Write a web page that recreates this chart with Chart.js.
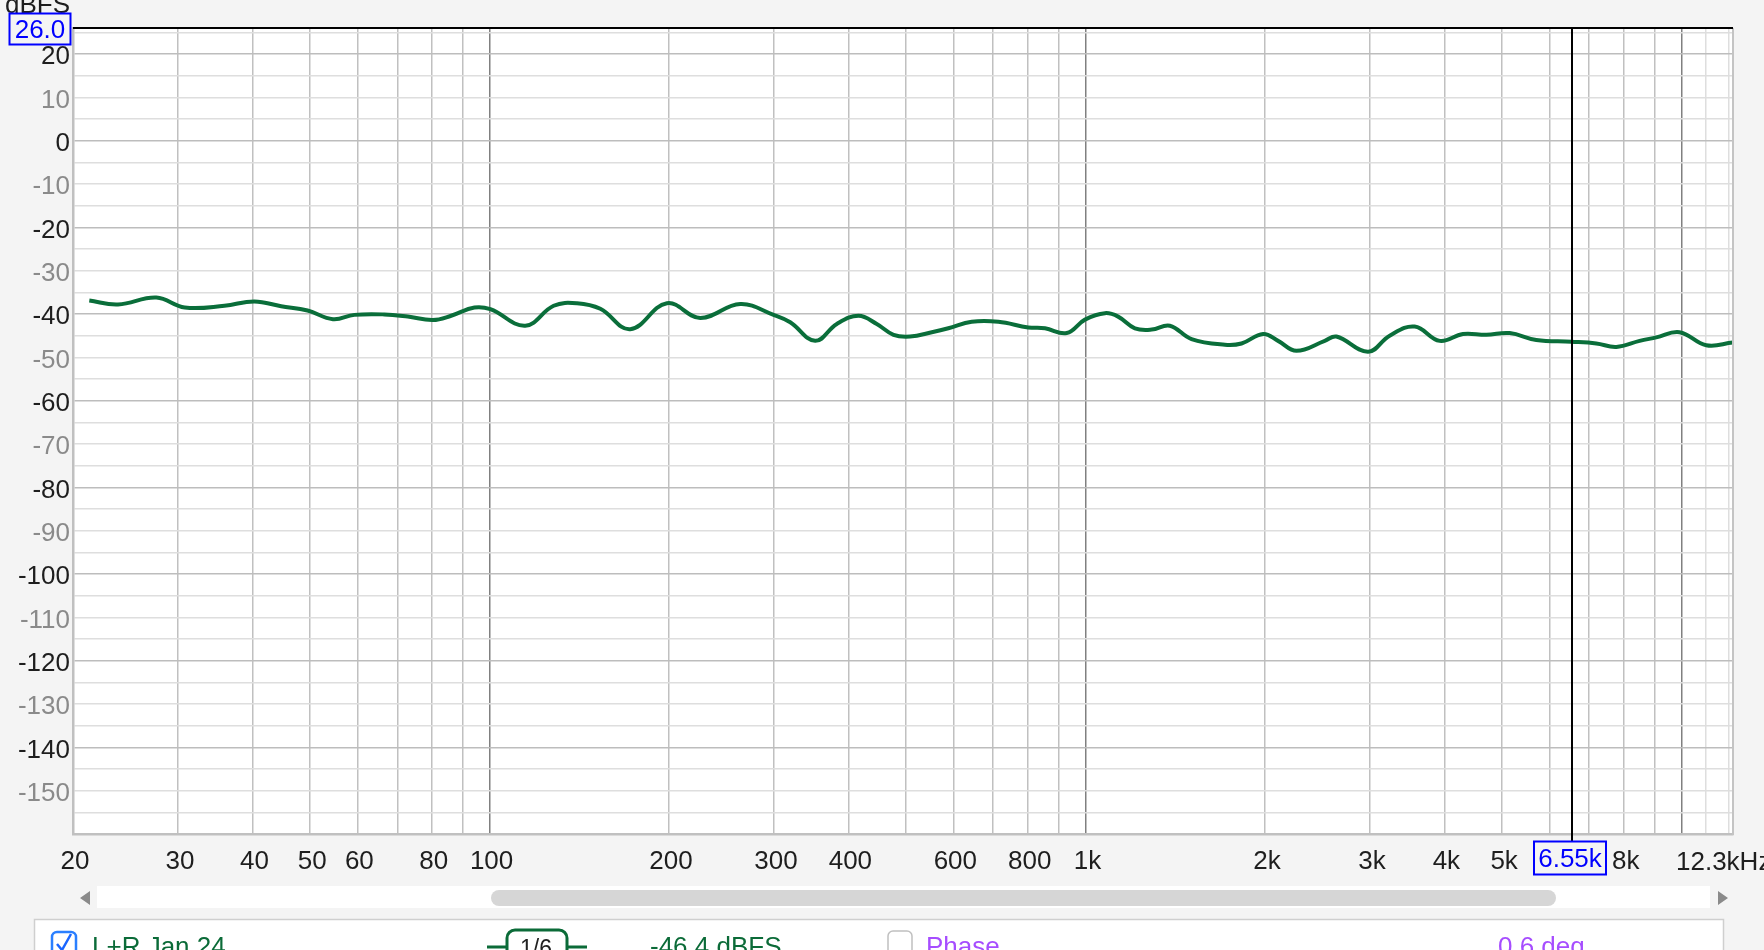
<!DOCTYPE html>
<html>
<head>
<meta charset="utf-8">
<title>RTA</title>
<script src="https://cdn.jsdelivr.net/npm/chart.js@4.4.1/dist/chart.umd.min.js"></script>
<style>
  html, body { margin: 0; padding: 0; background: #f4f4f4; }
  #wrap { position: relative; width: 1764px; height: 950px; overflow: hidden; }
</style>
</head>
<body>
<div id="wrap"><canvas id="rtaChart" width="1764" height="950"></canvas></div>
<script>
const freqs = [21.3, 23.8, 27.6, 30.8, 35.9, 40.3, 44.7, 49.5, 54.6, 59.3, 66.6, 72.9, 80.3, 86.2, 94.3,
  100.3, 114.8, 128.1, 140.2, 153.4, 172.2, 198.4, 225.7, 263.4, 299.6, 319.5, 351.8, 382.5, 415.9, 446.4,
  476.2, 507.7, 552.1, 588.5, 644.2, 714, 801.5, 855.1, 929.6, 997.7, 1078, 1134, 1210, 1291, 1385, 1506,
  1713, 1827, 1986, 2104, 2259, 2520, 2636, 2979, 3238, 3567, 3929, 4298, 4706, 5148, 5706, 6533, 7194,
  7774, 8504, 9071, 9922, 11000, 12190];
const levels = [-36.9, -37.8, -36.2, -38.5, -38.1, -37.1, -38.2, -39.2, -41.2, -40.2, -40.1, -40.6, -41.4, -40.4, -38.5,
  -38.9, -42.7, -38.1, -37.5, -38.8, -43.5, -37.5, -40.9, -37.7, -40.2, -41.9, -46.2, -42.3, -40.4, -42.3,
  -44.8, -45.2, -44.2, -43.3, -41.8, -41.8, -43.1, -43.3, -44.4, -41.3, -39.8, -40.6, -43.3, -43.6, -42.7, -45.8,
  -47.1, -46.8, -44.6, -46.2, -48.5, -46.2, -45.2, -48.7, -45.0, -42.9, -46.2, -44.6, -44.8, -44.4, -46.0, -46.4, -46.8,
  -47.6, -46.2, -45.4, -44.2, -47.2, -46.6];

const xGridValues = [20, 30, 40, 50, 60, 70, 80, 90, 100, 200, 300, 400, 500, 600, 700, 800, 900,
  1000, 2000, 3000, 4000, 5000, 6000, 7000, 8000, 9000, 10000, 11000, 12000];
const xLabelValues = [20, 30, 40, 50, 60, 80, 100, 200, 300, 400, 600, 800, 1000, 2000, 3000, 4000, 5000, 8000];
const xLabelTexts = ['20', '30', '40', '50', '60', '80', '100', '200', '300', '400', '600', '800', '1k', '2k', '3k', '4k', '5k', '8k'];
const yGridValues = [25, 20, 15, 10, 5, 0, -5, -10, -15, -20, -25, -30, -35, -40, -45, -50, -55, -60, -65, -70,
  -75, -80, -85, -90, -95, -100, -105, -110, -115, -120, -125, -130, -135, -140, -145, -150, -155];
const yLabelValues = [20, 10, 0, -10, -20, -30, -40, -50, -60, -70, -80, -90, -100, -110, -120, -130, -140, -150];

const cursorFreq = 6550;
const cursorLevel = 26.0;

const FONT = '"Liberation Sans", Arial, sans-serif';
const FSIZE = 26;
const GREEN = '#0b6b38';
const PURPLE = '#a64dff';
const BLUE = '#0000ff';

function boxLabel(ctx, text, cx, cy, w, h) {
  ctx.fillStyle = '#f4f4f4';
  ctx.fillRect(cx - w / 2, cy - h / 2, w, h);
  ctx.strokeStyle = BLUE;
  ctx.lineWidth = 2;
  ctx.strokeRect(cx - w / 2, cy - h / 2, w, h);
  ctx.fillStyle = BLUE;
  ctx.textAlign = 'center';
  ctx.textBaseline = 'alphabetic';
  ctx.fillText(text, cx, cy + 9);
}

const overlay = {
  id: 'overlay',
  beforeDraw(chart) {
    const { ctx, chartArea: a } = chart;
    ctx.save();
    ctx.fillStyle = '#ffffff';
    ctx.fillRect(a.left, a.top, a.right - a.left, a.bottom - a.top);
    ctx.restore();
  },
  afterDraw(chart) {
    const { ctx, chartArea: a } = chart;
    const xs = chart.scales.x, ys = chart.scales.y;
    ctx.save();
    ctx.font = FSIZE + 'px ' + FONT;

    // right frame
    ctx.strokeStyle = '#c4c4c4';
    ctx.lineWidth = 2;
    ctx.beginPath();
    ctx.moveTo(a.right, a.top);
    ctx.lineTo(a.right, a.bottom + 1);
    ctx.stroke();

    // cursor lines
    const cy = ys.getPixelForValue(cursorLevel);
    const cx = Math.round(xs.getPixelForValue(cursorFreq));
    ctx.strokeStyle = '#000';
    ctx.lineWidth = 2;
    ctx.beginPath();
    ctx.moveTo(a.left, cy);
    ctx.lineTo(a.right, cy);
    ctx.moveTo(cx, a.top);
    ctx.lineTo(cx, 842);
    ctx.stroke();

    // axis captions
    ctx.fillStyle = '#1e1e1e';
    ctx.textAlign = 'right';
    ctx.textBaseline = 'alphabetic';
    ctx.fillText('dBFS', 70, 13);
    ctx.textAlign = 'left';
    ctx.fillText('12.3kHz', 1676, 870);

    boxLabel(ctx, cursorLevel.toFixed(1), 40, cy + 1, 61, 31);
    boxLabel(ctx, (cursorFreq / 1000).toFixed(2) + 'k', cx - 2, 858, 72, 33);

    // scrollbar
    ctx.fillStyle = '#ffffff';
    ctx.fillRect(97, 886, 1613, 22);
    ctx.fillStyle = '#d6d6d6';
    ctx.beginPath();
    ctx.roundRect(491, 890, 1065, 16, 8);
    ctx.fill();
    ctx.fillStyle = '#8a8a8a';
    ctx.beginPath();
    ctx.moveTo(80, 898); ctx.lineTo(90, 891); ctx.lineTo(90, 905); ctx.closePath();
    ctx.moveTo(1728, 898); ctx.lineTo(1718, 891); ctx.lineTo(1718, 905); ctx.closePath();
    ctx.fill();

    // trace panel
    ctx.fillStyle = '#ffffff';
    ctx.fillRect(34.5, 919.5, 1689, 60);
    ctx.strokeStyle = '#cfcfcf';
    ctx.lineWidth = 1.5;
    ctx.strokeRect(34.5, 919.5, 1689, 60);

    ctx.strokeStyle = '#2a7fff';
    ctx.lineWidth = 2.5;
    ctx.beginPath();
    ctx.roundRect(52, 932, 24, 24, 5);
    ctx.stroke();
    ctx.strokeStyle = '#1a66ff';
    ctx.beginPath();
    ctx.moveTo(57, 944); ctx.lineTo(62, 950); ctx.lineTo(71, 934);
    ctx.stroke();

    ctx.strokeStyle = '#c0c0c0';
    ctx.lineWidth = 1.5;
    ctx.beginPath();
    ctx.roundRect(888, 931, 24, 24, 5);
    ctx.stroke();

    ctx.strokeStyle = GREEN;
    ctx.lineWidth = 3;
    ctx.beginPath();
    ctx.moveTo(487, 947); ctx.lineTo(507, 947);
    ctx.moveTo(567, 947); ctx.lineTo(587, 947);
    ctx.stroke();
    ctx.beginPath();
    ctx.roundRect(507, 930, 60, 40, 8);
    ctx.stroke();

    ctx.textAlign = 'left';
    ctx.fillStyle = GREEN;
    ctx.fillText('L+R Jan 24', 92, 955);
    ctx.fillText('-46.4 dBFS', 650, 955);
    ctx.fillStyle = '#222';
    ctx.font = '23px ' + FONT;
    ctx.fillText('1/6', 520, 956);
    ctx.font = FSIZE + 'px ' + FONT;
    ctx.fillStyle = PURPLE;
    ctx.fillText('Phase', 926, 955);
    ctx.fillText('0.6 deg', 1498, 955);
    ctx.restore();
  }
};

new Chart(document.getElementById('rtaChart'), {
  type: 'line',
  data: {
    datasets: [{
      label: 'L+R Jan 24',
      data: freqs.map((f, i) => ({ x: f, y: levels[i] })),
      borderColor: '#0a6e3a',
      borderWidth: 4,
      pointRadius: 0,
      tension: 0.4,
      fill: false
    }]
  },
  options: {
    responsive: false,
    animation: false,
    devicePixelRatio: 1,
    layout: { padding: { top: 28, right: 31, left: 0, bottom: 0 } },
    plugins: { legend: { display: false }, tooltip: { enabled: false } },
    scales: {
      x: {
        type: 'logarithmic',
        min: 20,
        max: 12200,
        afterBuildTicks: s => { s.ticks = xGridValues.map(v => ({ value: v })); },
        afterFit: s => { s.height = 116; s.paddingLeft = 0; s.paddingRight = 0; },
        grid: {
          drawTicks: false,
          lineWidth: 1.5,
          color: c => {
            const v = c.tick ? c.tick.value : 0;
            if (v === 100 || v === 1000 || v === 10000) return '#808080';
            if (v > 10000) return '#dedede';
            return '#c0c0c0';
          }
        },
        border: { color: '#c0c0c0', width: 2.5 },
        ticks: {
          autoSkip: false,
          maxRotation: 0,
          padding: 12,
          labelOffset: 2,
          color: '#1e1e1e',
          font: { family: FONT, size: FSIZE },
          callback: v => {
            const i = xLabelValues.indexOf(v);
            return i >= 0 ? xLabelTexts[i] : '';
          }
        }
      },
      y: {
        type: 'linear',
        min: -160,
        max: 26,
        afterBuildTicks: s => { s.ticks = yGridValues.map(v => ({ value: v })); },
        afterFit: s => { s.width = 73; },
        grid: {
          drawTicks: false,
          lineWidth: 1.5,
          color: c => (c.tick && c.tick.value % 20 === 0) ? '#bdbdbd' : '#dedede'
        },
        border: { color: '#c0c0c0', width: 2.5 },
        ticks: {
          autoSkip: false,
          padding: 3,
          labelOffset: 3,
          font: { family: FONT, size: FSIZE },
          color: c => (c.tick && c.tick.value % 20 === 0) ? '#1e1e1e' : '#8a8a8a',
          callback: v => yLabelValues.includes(v) ? String(v) : ''
        }
      }
    }
  },
  plugins: [overlay]
});
</script>
</body>
</html>
